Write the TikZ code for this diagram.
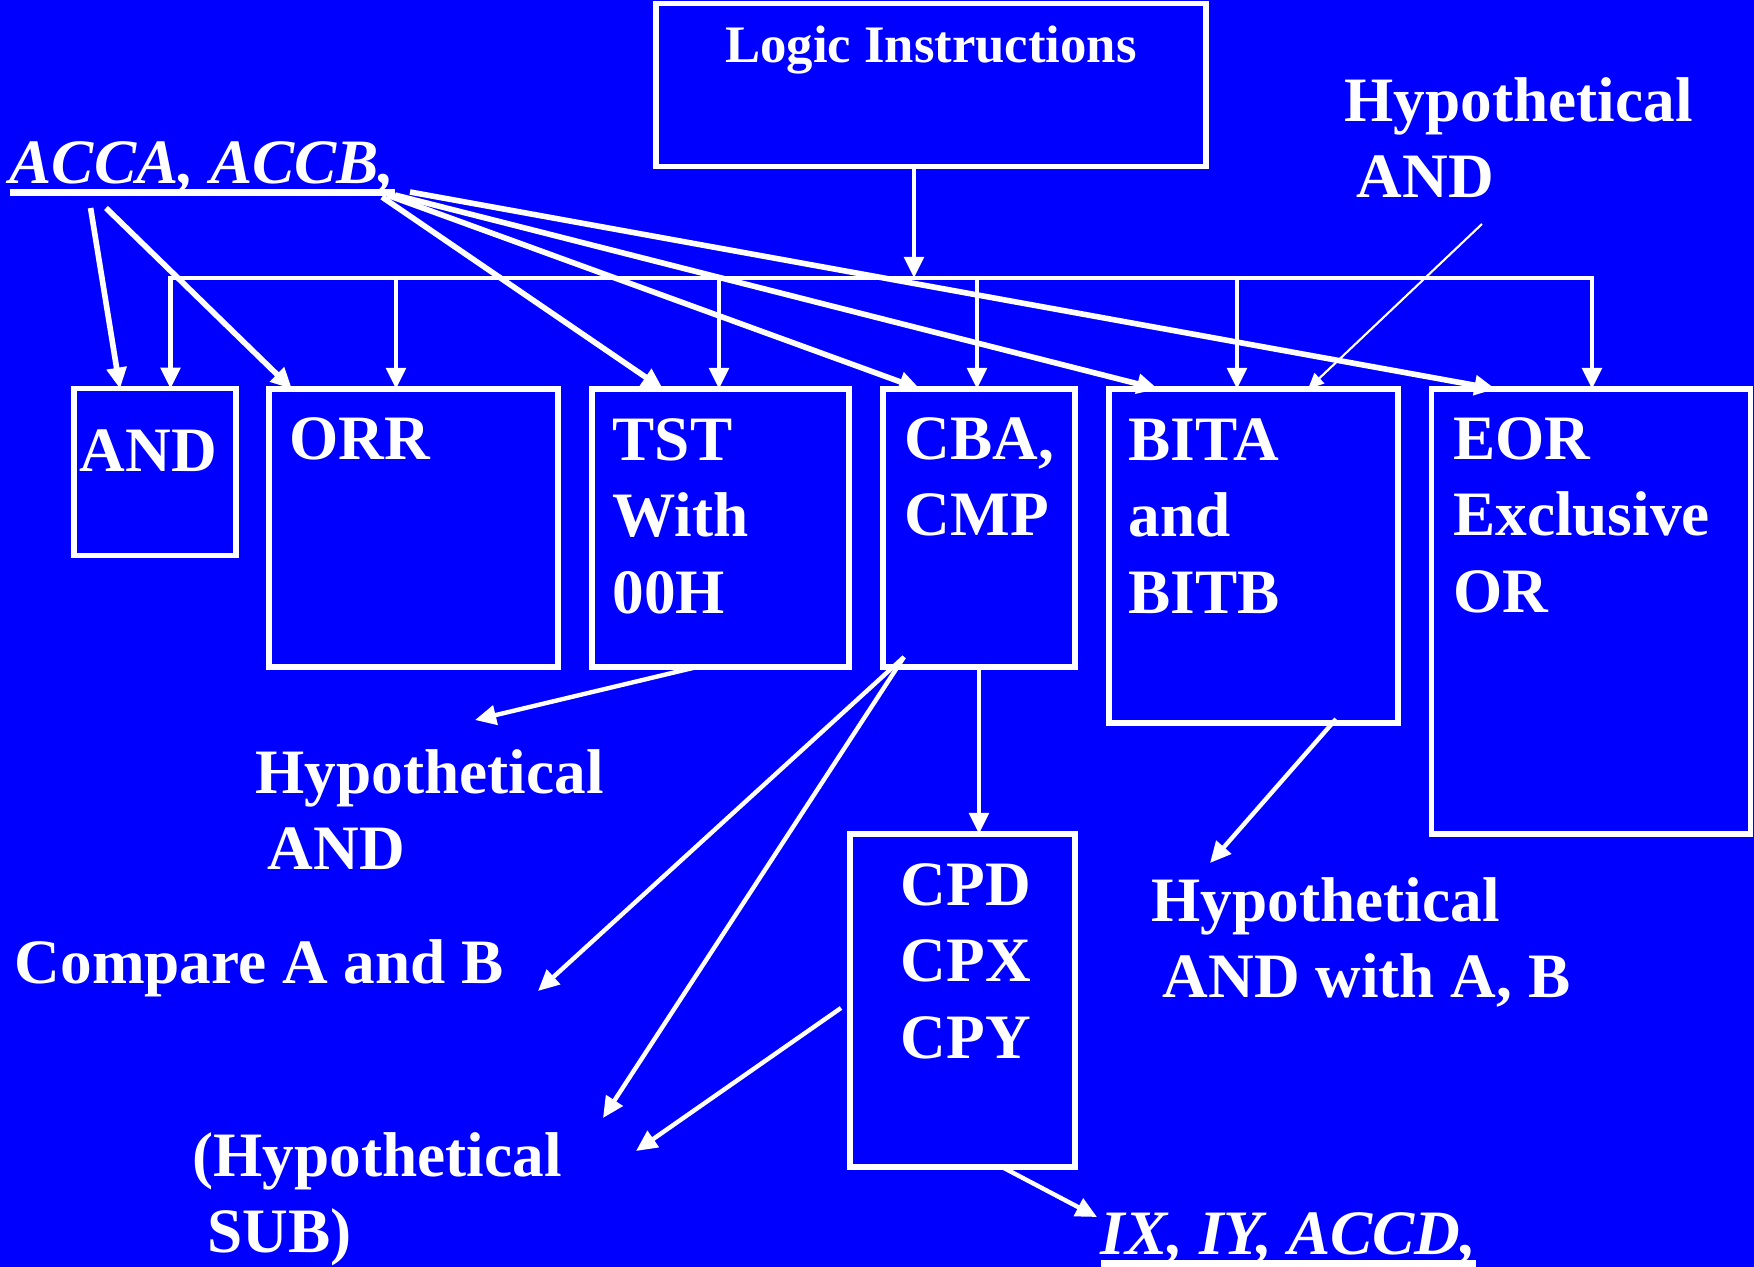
\documentclass[tikz,border=0pt]{standalone}
\usepackage{fontspec}
\setmainfont{Liberation Serif}
\usetikzlibrary{arrows.meta, positioning}
\definecolor{slideblue}{RGB}{0,0,255}
\newsavebox{\ulbox}
\newcommand{\thickul}[1]{\sbox{\ulbox}{#1}\rlap{\rule[-3.6pt]{\wd\ulbox}{1.8pt}}\usebox{\ulbox}}

\begin{document}
\begin{tikzpicture}[
    box/.style={rectangle, draw=white, line width=1.5pt, inner sep=0pt, outer sep=0pt},
    lbl/.style={font=\bfseries\fontsize{18}{21.7}\selectfont, text=white, inner sep=0pt, align=left},
    title/.style={font=\bfseries\fontsize{15}{18}\selectfont, text=white, inner sep=0pt},
    arrow/.style={-{Triangle[length=6pt,width=5.5pt]}, draw=white, line width=1.25pt},
    fatarrow/.style={arrow, line width=1.6pt},
    thinarrow/.style={-{Triangle[length=4.5pt,width=4pt]}, draw=white, line width=0.6pt},
]
\fill[slideblue] (0,0) rectangle (17.54,-12.67);
\useasboundingbox (0,0) rectangle (17.54,-12.67);

% Boxes
\node[box, minimum width=5.50cm, minimum height=1.63cm] (logic) at (9.31,-0.85) {};
\node[box, minimum width=1.62cm, minimum height=1.665cm] (andbox) at (1.55,-4.72) {};
\node[box, minimum width=2.89cm, minimum height=2.78cm] (orr) at (4.135,-5.28) {};
\node[box, minimum width=2.57cm, minimum height=2.78cm] (tst) at (7.205,-5.28) {};
\node[box, minimum width=1.92cm, minimum height=2.78cm] (cba) at (9.79,-5.28) {};
\node[box, minimum width=2.89cm, minimum height=3.34cm] (bita) at (12.535,-5.56) {};
\node[box, minimum width=3.19cm, minimum height=4.45cm] (eor) at (15.91,-6.115) {};
\node[box, minimum width=2.25cm, minimum height=3.33cm] (cpd) at (9.625,-10.005) {};

% Box texts
\node[title, below=0.215cm of logic.north] (logictext) {Logic Instructions};
\node[lbl, below right=0.40cm and 0.05cm of andbox.north west] (andtext) {AND};
\node[lbl, below right=0.28cm and 0.20cm of orr.north west] (orrtext) {ORR};
\node[lbl, below right=0.29cm and 0.20cm of tst.north west] (tsttext) {TST\\With\\00H};
\node[lbl, below right=0.28cm and 0.21cm of cba.north west] (cbatext) {CBA,\\CMP};
\node[lbl, below right=0.29cm and 0.19cm of bita.north west] (bitatext) {BITA\\and\\BITB};
\node[lbl, below right=0.28cm and 0.21cm of eor.north west] (eortext) {EOR\\Exclusive\\OR};
\node[lbl, below right=0.29cm and 0.50cm of cpd.north west] (cpdtext) {CPD\\CPX\\CPY};

% Notes
\node[lbl, anchor=base west] (acca) at (0.09,-1.83) {\itshape\thickul{ACCA, ACCB,}};
\node[lbl, anchor=north west] (hypand) at (13.44,-0.767) {Hypothetical\\\hspace*{0.12cm}AND};
\node[lbl, anchor=north west] (tstnote) at (2.55,-7.487) {Hypothetical\\\hspace*{0.12cm}AND};
\node[lbl, anchor=base west] (compare) at (0.14,-9.83) {Compare A and B};
\node[lbl, anchor=north west] (subnote) at (1.92,-11.32) {(Hypothetical\\\hspace*{0.15cm}SUB)};
\node[lbl, anchor=north west] (bitanote) at (11.51,-8.767) {Hypothetical\\\hspace*{0.11cm}AND with A, B};
\node[lbl, anchor=base west] (ixiy) at (11.0,-12.54) {\itshape\thickul{IX, IY, ACCD,}};

% Trunk and bus
\coordinate (bus) at (9.14,-2.78);
\coordinate (busw) at (1.705,-2.78);
\coordinate (buse) at (15.92,-2.78);
\draw[arrow] (logic.south -| bus) -- (bus);
\draw[white, line width=1.25pt, line cap=rect] (busw) -- (buse);
\foreach \x/\b in {1.705/andbox, 3.96/orr, 7.19/tst, 9.77/cba, 12.37/bita, 15.92/eor}
  \draw[arrow] (\x,-2.78) -- (\x,0 |- \b.north);

% Accumulator arrows
\foreach \dx/\dy/\b/\ex in {0.816/-0.25/andbox/0.46, 0.97/-0.25/orr/0.23, 3.73/-0.14/tst/0.71,
    3.78/-0.12/cba/0.37, 3.86/-0.12/bita/0.49, 4.01/-0.09/eor/0.64}
  \draw[fatarrow] ([shift={(\dx,\dy)}]acca.base west) -- ([xshift=\ex cm]\b.north west);

% Note arrows
\draw[thinarrow] ([shift={(1.38,-1.473)}]hypand.north west) -- ([xshift=1.99cm]bita.north west);
\draw[arrow] ([xshift=1.05cm]tst.south west) -- ([shift={(2.20,0.287)}]tstnote.north west);
\draw[arrow] ([shift={(0.21,0.10)}]cba.south west) -- ([shift={(5.24,-0.08)}]compare.base west);
\draw[arrow] ([shift={(0.21,0.10)}]cba.south west) -- ([shift={(4.11,0.14)}]subnote.north west);
\draw[arrow] (cba.south) -- (cba.south |- cpd.north);
\draw[arrow] ([shift={(-0.09,-1.74)}]cpd.north west) -- ([shift={(4.44,-0.19)}]subnote.north west);
\draw[arrow] ([shift={(2.27,0.04)}]bita.south west) -- ([shift={(0.59,0.137)}]bitanote.north west);
\draw[arrow] ([xshift=1.52cm]cpd.south west) -- ([shift={(-0.03,0.37)}]ixiy.base west);

\end{tikzpicture}
\end{document}
